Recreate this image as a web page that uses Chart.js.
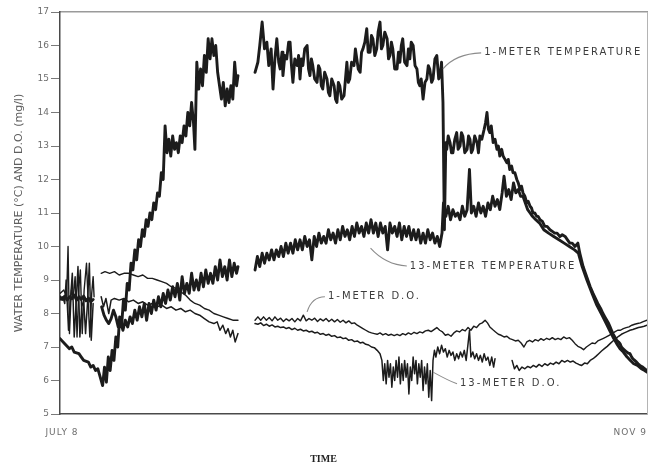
<!DOCTYPE html>
<html>
<head>
<meta charset="utf-8">
<script src="https://cdn.jsdelivr.net/npm/chart.js@4"></script>
<style>
  html, body { margin: 0; padding: 0; background: #ffffff; }
  #wrap { width: 654px; height: 466px; }
</style>
</head>
<body>
<div id="wrap"><canvas id="c" width="654" height="466"></canvas></div>
<script>
// Record runs from July 8 (day 0) to November 9 (day 124); [day, value] pairs.
const dateTicks = [[0, 'JULY 8'], [124, 'NOV 9']];
const yTickRange = [5, 17];

// Water temperature at 1 m (deg C)
const temp1m = [
  [0,7.25],[1,7.1],[2,6.95],[2.5,7.0],[3,6.85],[4,6.8],[4.5,6.7],[5,6.6],[6,6.55],[6.5,6.4],[7,6.45],[7.5,6.3],[8,6.35],[8.5,6.1],[9,5.85],[9.4,6.4],[9.8,5.95],[10.2,6.7],[10.6,6.3],[11,6.9],[11.4,6.6],[11.8,7.3],[12.2,7.0],[12.6,7.9],[13,7.6],[13.4,8.4],[13.8,8.1],[14.2,8.9],[14.6,8.7],[15,9.5],[15.4,9.3],[15.8,9.9],[16.2,9.6],[16.6,10.2],[17,10.0],[17.4,10.5],[17.8,10.3],[18.2,10.8],[18.6,10.6],[19,11.0],[19.4,10.8],[19.8,11.3],[20.2,11.1],[20.6,11.6],[21,11.5],[21.4,12.2],[21.8,12.0],[22.2,13.6],[22.6,12.8],[23,13.2],[23.4,12.7],[23.8,13.3],[24.2,12.9],[24.6,13.1],[25,12.8],[25.4,13.3],[25.8,13.1],[26.2,13.6],[26.6,13.3],[27,14.0],[27.4,13.6],[27.8,14.3],[28.2,13.7],[28.5,12.9],[28.9,15.5],[29.3,14.7],[29.7,15.3],[30.1,14.8],[30.5,15.7],[30.9,15.2],[31.3,16.2],[31.7,15.6],[32.1,16.2],[32.5,15.7],[32.9,16.0],[33.3,15.2],[33.7,14.8],[34.1,14.4],[34.5,14.9],[34.9,14.2],[35.3,14.7],[35.7,14.3],[36.1,14.8],[36.5,14.4],[36.9,15.5],[37.3,14.8],[37.6,15.1],
  [39.4,null],
  [41.2,15.2],[41.8,15.5],[42.2,16.0],[42.7,16.7],[43.2,15.9],[43.7,16.1],[44.1,15.4],[44.6,15.9],[45.0,14.7],[45.4,15.6],[45.8,16.2],[46.2,15.5],[46.5,15.3],[46.9,15.8],[47.1,15.1],[47.5,15.7],[47.9,15.6],[48.3,16.1],[48.6,16.1],[48.9,15.4],[49.2,14.9],[49.6,15.6],[50.1,15.4],[50.4,15.7],[50.7,15.0],[51.0,15.6],[51.3,15.4],[51.7,15.9],[52.2,16.0],[52.5,15.3],[52.8,15.1],[53.1,15.6],[53.4,15.4],[53.8,15.0],[54.3,14.9],[54.6,15.4],[54.9,15.3],[55.2,14.8],[55.5,14.7],[55.9,15.2],[56.4,15.0],[56.7,14.6],[57.0,14.5],[57.4,15.0],[57.9,14.8],[58.2,14.4],[58.5,14.3],[58.8,14.9],[59.1,14.8],[59.5,14.4],[60.0,14.5],[60.3,15.0],[60.6,15.5],[60.9,14.9],[61.2,15.0],[61.6,15.5],[62.1,15.4],[62.4,15.9],[62.7,15.6],[63.0,15.3],[63.4,15.2],[63.7,15.8],[64.0,15.9],[64.4,16.1],[64.8,16.5],[65.1,15.8],[65.5,15.8],[65.8,16.3],[66.1,16.2],[66.5,15.7],[66.9,15.9],[67.2,16.4],[67.6,16.7],[67.9,15.9],[68.2,16.0],[68.6,16.4],[69.1,16.2],[69.4,15.6],[69.7,15.7],[70.0,16.1],[70.3,15.9],[70.7,15.3],[71.2,15.3],[71.5,15.8],[71.8,15.5],[72.1,16.0],[72.4,16.2],[72.8,15.5],[73.3,15.4],[73.6,15.9],[73.9,15.6],[74.2,16.1],[74.6,16.0],[75.0,15.4],[75.4,15.3],[75.7,14.9],[76.0,14.8],[76.3,15.0],[76.7,14.4],[77.1,14.9],[77.5,15.0],[77.8,15.4],[78.1,15.3],[78.5,14.9],[78.8,15.0],[79.2,15.6],[79.6,15.7],[80.0,15.0],[80.3,15.1],[80.6,15.5],[80.9,14.3],[81.2,10.5],[81.5,13.1],[81.7,12.9],[82.0,13.3],[82.4,13.1],[82.7,12.8],[83.0,12.8],[83.4,13.2],[83.8,13.4],[84.1,12.9],[84.5,13.0],[84.8,13.4],[85.1,13.3],[85.5,12.8],[86.0,12.9],[86.3,13.3],[86.6,13.2],[86.9,12.8],[87.2,12.9],[87.6,13.3],[88.1,13.1],[88.4,12.8],[88.7,13.3],[89.1,13.2],[89.6,13.5],[89.9,13.7],[90.2,14.0],[90.5,13.5],[90.8,13.4],[91.1,13.6],[91.5,13.1],[91.9,13.2],[92.3,12.9],[92.6,13.0],[92.9,12.7],[93.3,12.9],[93.6,12.7],[94.0,12.6],[94.4,12.5],[94.7,12.6],[95.0,12.3],[95.4,12.4],[95.7,12.2],[96.1,12.2],[96.5,12.0],[96.8,11.9],[97.2,11.7],[97.5,11.8],[97.8,11.6],[98.2,11.5],[98.6,11.3],[98.9,11.35],[99.3,11.2],[99.6,11.15],[99.9,11.0],[100.3,11.0],[100.7,10.9],[101.0,10.9],[101.4,10.8],[101.9,10.75],[102.4,10.6],[102.9,10.6],[103.5,10.5],[104.0,10.45],[104.5,10.4],[105.0,10.4],[105.6,10.3],[106.1,10.35],[106.7,10.3],[107.2,10.2],[107.7,10.1],[108.2,10.1],[108.8,10.0],[109.4,10.1],[109.8,9.8],[110.5,9.4],[111.0,9.2],[111.5,9.0],[112.0,8.8],[112.6,8.6],[113.1,8.45],[113.6,8.3],[114.2,8.15],[114.7,8.0],[115.1,7.9],[115.5,7.8],[115.9,7.7],[116.2,7.6],[116.5,7.5],[116.8,7.4],[117.2,7.3],[117.6,7.2],[118.0,7.15],[118.3,7.1],[118.6,7.0],[118.9,6.95],[119.3,6.9],[119.7,6.85],[120.0,6.82],[120.4,6.8],[120.7,6.72],[121.0,6.65],[121.4,6.6],[121.8,6.55],[122.1,6.5],[122.5,6.45],[122.8,6.42],[123.1,6.4],[123.5,6.35],[124,6.3]
];

// Water temperature at 13 m (deg C)
const temp13m = [
  [0,8.5],[0.5,8.42],[1,8.52],[1.5,8.4],[2,8.5],[2.5,8.44],[3,8.55],[3.5,8.4],[4,8.5],[4.5,8.42],[5,8.52],[5.5,8.38],[6,8.46],[6.5,8.35],[7,8.42],
  [7.8,null],
  [8.8,8.2],[9.3,7.95],[9.8,7.8],[10.3,7.7],[10.8,7.85],[11.3,8.1],[11.8,7.9],[12.3,7.6],[12.8,7.75],[13.3,7.5],[13.8,7.8],[14.3,7.6],[14.8,7.9],[15.3,7.7],[15.8,8.1],[16.3,7.8],[16.8,8.2],[17.3,7.9],[17.8,8.3],[18.3,7.8],[18.8,8.3],[19.3,8.0],[19.8,8.4],[20.3,8.1],[20.8,8.5],[21.3,8.2],[21.8,8.6],[22.3,8.3],[22.8,8.7],[23.3,8.4],[23.8,8.8],[24.3,8.5],[24.8,8.9],[25.3,8.4],[25.8,9.1],[26.3,8.6],[26.8,8.9],[27.3,8.6],[27.8,9.2],[28.3,8.7],[28.8,9.0],[29.3,8.7],[29.8,9.2],[30.3,8.8],[30.8,9.3],[31.3,8.9],[31.8,9.2],[32.3,8.9],[32.8,9.4],[33.3,9.0],[33.8,9.6],[34.3,9.1],[34.8,9.4],[35.3,9.0],[35.8,9.6],[36.3,9.1],[36.8,9.5],[37.3,9.2],[37.6,9.4],
  [39.4,null],
  [41.2,9.3],[41.7,9.7],[42.2,9.4],[42.7,9.8],[43.2,9.5],[43.7,9.8],[44.2,9.6],[44.7,9.9],[45.2,9.6],[45.7,9.9],[46.2,9.7],[46.7,10.0],[47.2,9.7],[47.7,10.1],[48.2,9.8],[48.7,10.1],[49.2,9.8],[49.7,10.2],[50.2,9.9],[50.7,10.2],[51.2,9.9],[51.7,10.3],[52.2,10.0],[52.7,10.2],[53.2,9.6],[53.7,10.3],[54.2,10.0],[54.7,10.4],[55.2,10.1],[55.7,10.3],[56.2,10.1],[56.7,10.5],[57.2,10.2],[57.7,10.4],[58.2,10.1],[58.7,10.5],[59.2,10.2],[59.7,10.6],[60.2,10.3],[60.7,10.5],[61.2,10.2],[61.7,10.6],[62.2,10.3],[62.7,10.7],[63.2,10.4],[63.7,10.6],[64.2,10.3],[64.7,10.7],[65.2,10.4],[65.7,10.8],[66.2,10.4],[66.7,10.7],[67.2,10.3],[67.7,10.7],[68.2,10.4],[68.7,10.6],[69.2,9.9],[69.7,10.7],[70.2,10.4],[70.7,10.6],[71.2,10.3],[71.7,10.7],[72.2,10.2],[72.7,10.6],[73.2,10.3],[73.7,10.6],[74.2,10.2],[74.7,10.5],[75.2,10.2],[75.7,10.5],[76.2,10.1],[76.7,10.4],[77.2,10.1],[77.7,10.5],[78.2,10.2],[78.7,10.4],[79.2,10.1],[79.7,10.3],[80.2,10.0],[80.7,10.4],[81.0,11.3],[81.5,10.9],[82.0,11.2],[82.5,10.8],[83.0,11.1],[83.5,10.9],[84.0,11.0],[84.5,10.8],[85.0,11.2],[85.5,10.9],[86.0,11.1],[86.5,12.3],[86.9,11.0],[87.4,11.2],[87.9,10.9],[88.4,11.3],[88.9,11.0],[89.4,11.2],[89.9,10.9],[90.4,11.3],[90.9,11.1],[91.4,11.5],[91.9,11.2],[92.4,11.4],[92.9,11.1],[93.4,11.6],[93.8,12.1],[94.3,11.5],[94.8,11.7],[95.3,11.4],[95.8,11.9],[96.3,11.6],[96.8,11.7],[97.3,11.5],[97.8,11.5],[98.3,11.3],[98.8,11.1],[99.3,11.0],[99.8,10.9],[100.5,10.8],[101.3,10.7],[102.2,10.5],[103.2,10.4],[104.3,10.3],[105.4,10.2],[106.5,10.1],[107.6,10.0],[108.7,9.9],[109.5,9.8],[110.3,9.4],[111.3,9.0],[112.4,8.6],[113.4,8.25],[114.5,7.95],[115.4,7.7],[116.1,7.5],[116.8,7.3],[117.6,7.1],[118.3,6.95],[119,6.85],[119.8,6.7],[120.5,6.6],[121.2,6.5],[122,6.45],[122.8,6.35],[123.5,6.3],[124,6.25]
];

// Dissolved oxygen at 1 m (mg/l)
const oxygen1m = [
  [0,8.6],[0.8,8.7],[1.4,8.5],[1.7,10.0],[2.0,7.4],[2.4,8.7],[2.8,8.5],[3.2,9.1],[3.6,7.3],[4.0,8.8],[4.3,9.3],[4.7,7.4],[5.1,8.7],[5.6,9.5],[6.0,8.2],[6.3,7.3],[6.7,8.6],[7.0,9.1],[7.2,8.5],
  [7.9,null],
  [8.7,9.2],[9.5,9.25],[10.5,9.2],[11.5,9.25],[12.5,9.15],[13.5,9.2],[14.5,9.2],[15.5,9.15],[16.5,9.1],[17.5,9.15],[18.5,9.05],[19.5,9.05],[20.5,9.0],[21.5,8.95],[22.5,8.9],[23.5,8.8],[24.5,8.75],[25.5,8.65],[26.5,8.55],[27.5,8.4],[28.5,8.3],[29.5,8.25],[30.5,8.15],[31.5,8.1],[32.5,8.0],[33.5,7.95],[34.5,7.9],[35.5,7.85],[36.5,7.8],[37.6,7.8],
  [39.4,null],
  [41.2,7.8],[41.8,7.9],[42.4,7.8],[43,7.9],[43.6,7.8],[44.2,7.88],[44.8,7.78],[45.4,7.9],[46,7.8],[46.6,7.86],[47.2,7.76],[47.8,7.84],[48.4,7.78],[49,7.85],[49.6,7.75],[50.2,7.85],[50.8,7.78],[51.4,7.95],[52,7.78],[52.6,7.85],[53.2,7.8],[53.8,7.86],[54.4,7.76],[55,7.84],[55.6,7.78],[56.2,7.85],[56.8,7.76],[57.4,7.83],[58,7.75],[58.6,7.82],[59.2,7.74],[59.8,7.8],[60.4,7.72],[61,7.78],[61.6,7.7],[62.2,7.72],[62.8,7.65],[63.4,7.6],[64,7.55],[64.6,7.5],[65.2,7.45],[65.8,7.42],[66.4,7.4],[67,7.38],[67.6,7.42],[68.2,7.36],[68.8,7.4],[69.4,7.35],[70,7.38],[70.6,7.34],[71.2,7.38],[71.8,7.34],[72.4,7.4],[73,7.36],[73.6,7.42],[74.2,7.38],[74.8,7.44],[75.4,7.4],[76,7.45],[76.6,7.42],[77.2,7.48],[77.8,7.5],[78.4,7.46],[79,7.52],[79.6,7.58],[80.2,7.5],[80.8,7.45],[81.4,7.35],[82,7.38],[82.6,7.32],[83.2,7.42],[83.8,7.48],[84.4,7.45],[85,7.52],[85.6,7.48],[86.2,7.58],[86.8,7.5],[87.4,7.62],[88,7.58],[88.6,7.68],[89.2,7.72],[89.8,7.8],[90.3,7.72],[90.8,7.6],[91.4,7.52],[92,7.45],[92.6,7.38],[93.2,7.35],[93.8,7.3],[94.4,7.32],[95,7.25],[95.6,7.22],[96.2,7.18],[96.8,7.2],[97.4,7.12],[98,7.0],[98.6,7.15],[99.2,7.2],[99.8,7.15],[100.4,7.22],[101,7.18],[101.6,7.25],[102.2,7.2],[102.8,7.26],[103.4,7.22],[104,7.28],[104.6,7.22],[105.2,7.26],[105.8,7.22],[106.4,7.3],[107,7.25],[107.6,7.28],[108.2,7.2],[108.8,7.1],[109.4,7.02],[110,6.98],[110.6,6.92],[111.2,7.0],[111.8,7.06],[112.4,7.12],[113,7.1],[113.6,7.18],[114.2,7.22],[114.8,7.26],[115.4,7.3],[116,7.35],[116.6,7.4],[117.2,7.45],[117.8,7.5],[118.4,7.5],[119,7.55],[119.6,7.58],[120.2,7.6],[120.8,7.65],[121.4,7.68],[122,7.7],[122.6,7.72],[123.2,7.76],[124,7.8]
];

// Dissolved oxygen at 13 m (mg/l)
const oxygen13m = [
  [0,8.4],[0.6,8.5],[1.0,8.3],[1.3,9.0],[1.8,7.5],[2.2,8.4],[2.6,9.2],[3.0,7.3],[3.4,8.3],[3.8,9.4],[4.2,7.3],[4.6,8.2],[5.0,8.4],[5.4,7.4],[5.8,8.3],[6.2,9.5],[6.6,7.2],[7.0,8.3],
  [7.9,null],
  [8.7,8.5],[9.2,8.2],[9.7,8.45],[10.3,8.0],[10.8,8.4],[11.5,8.45],[12.5,8.4],[13.5,8.45],[14.5,8.35],[15.5,8.4],[16.5,8.3],[17.5,8.35],[18.5,8.25],[19.5,8.3],[20.5,8.2],[21.5,8.25],[22.5,8.15],[23.5,8.2],[24.5,8.1],[25.5,8.15],[26.5,8.05],[27.5,8.1],[28.5,8.0],[29.5,7.95],[30.5,7.85],[31.5,7.75],[32.5,7.7],[33.2,7.75],[33.8,7.5],[34.4,7.65],[35,7.4],[35.5,7.55],[36,7.3],[36.5,7.5],[37,7.15],[37.6,7.4],
  [39.4,null],
  [41.2,7.7],[41.8,7.68],[42.4,7.72],[43,7.64],[43.6,7.68],[44.2,7.62],[44.8,7.66],[45.4,7.6],[46,7.62],[46.6,7.58],[47.2,7.6],[47.8,7.55],[48.4,7.58],[49,7.52],[49.6,7.56],[50.2,7.5],[50.8,7.53],[51.4,7.48],[52,7.5],[52.6,7.45],[53.2,7.47],[53.8,7.42],[54.4,7.44],[55,7.38],[55.6,7.4],[56.2,7.35],[56.8,7.38],[57.4,7.32],[58,7.34],[58.6,7.28],[59.2,7.3],[59.8,7.25],[60.4,7.27],[61,7.2],[61.6,7.22],[62.2,7.16],[62.8,7.18],[63.4,7.12],[64,7.14],[64.6,7.08],[65.2,7.06],[65.8,7.0],[66.4,6.98],[67,6.9],[67.6,6.8],
  [68,6.6],[68.3,6.0],[68.6,6.5],[68.9,5.9],[69.2,6.6],[69.5,6.1],[69.8,6.5],[70.1,5.8],[70.4,6.4],[70.7,6.0],[71.0,6.6],[71.3,6.1],[71.6,6.7],[71.9,5.9],[72.2,6.5],[72.5,6.0],[72.8,6.6],[73.1,6.1],[73.4,6.5],[73.7,5.6],[74.0,6.4],[74.3,6.0],[74.6,6.7],[74.9,6.2],[75.2,6.6],[75.5,5.9],[75.8,6.5],[76.1,6.1],[76.4,6.6],[76.7,5.7],[77.0,6.4],[77.3,5.9],[77.6,6.5],[77.9,5.5],[78.2,6.3],[78.5,5.4],[78.8,6.6],[79.1,6.9],[79.4,6.7],
  [79.8,7.0],[80.2,6.8],[80.6,7.05],[81,6.85],[81.4,6.95],[81.8,6.7],[82.2,6.9],[82.6,6.75],[83,6.85],[83.4,6.6],[83.8,6.8],[84.2,6.65],[84.6,6.85],[85,6.7],[85.4,6.9],[85.8,6.6],[86.2,7.1],[86.5,7.5],[86.8,6.7],[87.2,6.85],[87.6,6.65],[88,6.8],[88.4,6.6],[88.8,6.75],[89.2,6.55],[89.6,6.8],[90,6.6],[90.4,6.7],[90.8,6.45],[91.2,6.7],[91.6,6.4],[91.9,6.65],
  [93.7,null],
  [95.5,6.6],[96,6.35],[96.5,6.45],[97,6.3],[97.6,6.4],[98.2,6.35],[98.8,6.42],[99.4,6.38],[100,6.45],[100.6,6.4],[101.2,6.48],[101.8,6.42],[102.4,6.5],[103,6.45],[103.6,6.52],[104.2,6.48],[104.8,6.55],[105.4,6.5],[106,6.6],[106.6,6.55],[107.2,6.6],[107.8,6.55],[108.4,6.58],[109,6.52],[109.6,6.48],[110.2,6.45],[110.8,6.52],[111.4,6.5],[112,6.6],[112.6,6.65],[113.2,6.72],[113.8,6.8],[114.4,6.88],[115,6.95],[115.6,7.02],[116.2,7.1],[116.8,7.18],[117.4,7.25],[118,7.32],[118.6,7.38],[119.2,7.42],[119.8,7.46],[120.4,7.5],[121,7.52],[121.6,7.55],[122.2,7.58],[122.8,7.6],[123.4,7.62],[124,7.65]
];

// Curve labels: text anchor and leader line (start, bend) in data units
const curveLabels = [
  { text: '1-METER TEMPERATURE',  at: [89.6, 15.78], from: [80.9, 15.3],  bend: [83.5, 15.75] },
  { text: '13-METER TEMPERATURE', at: [73.9, 9.42],  from: [65.6, 9.95],  bend: [68.8, 9.45] },
  { text: '1-METER D.O.',         at: [56.6, 8.5],   from: [52.2, 8.05],  bend: [53.2, 8.5] },
  { text: '13-METER D.O.',        at: [84.5, 5.9],   from: [78.8, 6.25],  bend: [82.0, 6.0] }
];

const ink = '#1c1c1c';
const lettering = '#3c3c3c';

const annotate = {
  id: 'annotate',
  afterDatasetsDraw(chart) {
    const { ctx } = chart;
    const xs = chart.scales.x, ys = chart.scales.y;
    const px = d => xs.getPixelForValue(d), py = v => ys.getPixelForValue(v);
    ctx.save();
    // leader lines
    ctx.strokeStyle = '#8c8c8c';
    ctx.lineWidth = 1.1;
    curveLabels.forEach(l => {
      ctx.beginPath();
      ctx.moveTo(px(l.from[0]), py(l.from[1]));
      ctx.quadraticCurveTo(px(l.bend[0]), py(l.bend[1]), px(l.at[0]) - 3, py(l.at[1]));
      ctx.stroke();
    });
    // labels
    ctx.fillStyle = lettering;
    ctx.font = '10px "DejaVu Sans"';
    ctx.letterSpacing = '2px';
    ctx.textAlign = 'left';
    ctx.textBaseline = 'middle';
    curveLabels.forEach(l => ctx.fillText(l.text, px(l.at[0]), py(l.at[1])));
    // date labels under the axis
    ctx.fillStyle = '#6e6e6e';
    ctx.font = '9px "DejaVu Sans"';
    ctx.letterSpacing = '1px';
    ctx.textBaseline = 'middle';
    const ay = chart.chartArea.bottom + 19;
    ctx.textAlign = 'center';
    ctx.fillText(dateTicks[0][1], px(dateTicks[0][0]) + 2, ay);
    ctx.textAlign = 'right';
    ctx.fillText(dateTicks[1][1], px(dateTicks[1][0]), ay);
    ctx.restore();
  }
};

function series(data, width) {
  return {
    data: data,
    borderColor: ink,
    borderWidth: width,
    pointRadius: 0,
    tension: 0,
    spanGaps: false,
    fill: false,
    borderJoinStyle: 'round',
    borderCapStyle: 'round'
  };
}

new Chart(document.getElementById('c'), {
  type: 'line',
  data: {
    datasets: [
      series(temp1m, 2.9),
      series(temp13m, 2.9),
      series(oxygen1m, 1.4),
      series(oxygen13m, 1.5)
    ]
  },
  options: {
    responsive: false,
    animation: false,
    devicePixelRatio: 1,
    layout: { padding: { top: 12, right: 7, left: 0, bottom: 0 } },
    plugins: {
      legend: { display: false },
      tooltip: { enabled: false },
      title: {
        display: true,
        text: 'TIME',
        position: 'bottom',
        color: '#222',
        font: { family: '"Liberation Serif"', size: 10, weight: 'bold' },
        padding: { top: 4, bottom: 1 }
      }
    },
    scales: {
      x: {
        type: 'linear',
        position: 'bottom',
        min: dateTicks[0][0],
        max: dateTicks[1][0],
        ticks: { display: false },
        grid: { display: true, drawOnChartArea: false, drawTicks: false },
        border: { display: true, color: '#4a4a4a', width: 1.5 },
        afterFit: s => { s.height = 35; }
      },
      xTop: {
        type: 'linear',
        position: 'top',
        min: 0, max: 1,
        ticks: { display: false },
        grid: { display: true, drawOnChartArea: false, drawTicks: false },
        border: { display: true, color: '#9a9a9a', width: 1.5 },
        afterFit: s => { s.height = 0; }
      },
      y: {
        type: 'linear',
        position: 'left',
        min: yTickRange[0],
        max: yTickRange[1],
        ticks: {
          stepSize: 1,
          color: '#6e6e6e',
          padding: 2,
          font: { family: '"DejaVu Sans"', size: 9 }
        },
        grid: { drawOnChartArea: false, drawTicks: true, tickLength: 9, color: '#7a7a7a' },
        border: { display: true, color: '#4a4a4a', width: 1.5 },
        title: {
          display: true,
          text: 'WATER TEMPERATURE (°C) AND D.O. (mg/l)',
          color: '#5e5e5e',
          font: { family: '"DejaVu Sans"', size: 11 },
          padding: { top: 13 }
        },
        afterFit: s => { s.width = 60; }
      },
      yRight: {
        type: 'linear',
        position: 'right',
        min: 0, max: 1,
        ticks: { display: false },
        grid: { display: true, drawOnChartArea: false, drawTicks: false },
        border: { display: true, color: '#b4b4b4', width: 1 },
        afterFit: s => { s.width = 0; }
      }
    }
  },
  plugins: [annotate]
});
</script>
</body>
</html>
